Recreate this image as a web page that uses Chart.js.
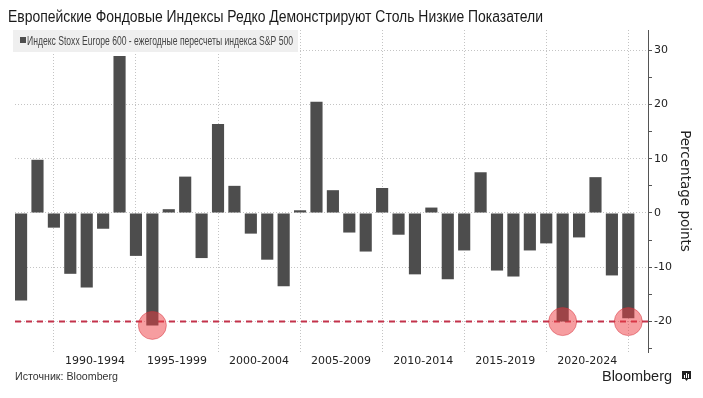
<!DOCTYPE html>
<html>
<head>
<meta charset="utf-8">
<script src="https://cdn.jsdelivr.net/npm/chart.js@4.4.1/dist/chart.umd.min.js"></script>
<style>
  body { margin: 0; background: #fff; }
  canvas { display: block; }
</style>
</head>
<body>
<canvas id="chart" width="703" height="398"></canvas>
<script>
// years (value of each year is dated at year-end, like the original time axis)
const years = [1987, 1988, 1989, 1990, 1991, 1992, 1993, 1994, 1995, 1996,
  1997, 1998, 1999, 2000, 2001, 2002, 2003, 2004, 2005, 2006,
  2007, 2008, 2009, 2010, 2011, 2012, 2013, 2014, 2015, 2016,
  2017, 2018, 2019, 2020, 2021, 2022, 2023, 2024];

// Stoxx Europe 600 minus S&P 500, percentage points
const spread = [-16.1, 9.8, -2.7, -11.2, -13.7, -2.9, 28.9, -7.9, -20.7, 0.7,
  6.7, -8.3, 16.4, 5.0, -3.8, -8.6, -13.5, 0.5, 20.5, 4.2,
  -3.6, -7.1, 4.6, -4.0, -11.3, 1.0, -12.2, -6.9, 7.5, -10.6,
  -11.7, -6.9, -5.6, -20.0, -4.5, 6.6, -11.5, -19.4];

// circled years and where the circles sit
const highlightYears = [1995, 2020, 2024];
const highlightValues = [-20.7, -20, -20];

const threshold = -20;

// five-year groups on the x axis
const groupStarts = [1990, 1995, 2000, 2005, 2010, 2015, 2020];
const groupLabels = ["1990-1994", "1995-1999", "2000-2004", "2005-2009", "2010-2014", "2015-2019", "2020-2024"];

const yTickStep = 5;

const titleText = "Европейские Фондовые Индексы Редко Демонстрируют Столь Низкие Показатели";
const legendText = "Индекс Stoxx Europe 600 - ежегодные пересчеты индекса S&P 500";
const sourceText = "Источник: Bloomberg";

// group boundaries sit at the year-end before the first year of each group
const boundaries = groupStarts.map(s => s - 1).concat([groupStarts[groupStarts.length - 1] + 4]);
const labelPos = groupStarts.map(s => s + 1.5);

function fitText(ctx, text, x, y, font, width, color) {
  ctx.save();
  ctx.font = font;
  ctx.fillStyle = color;
  ctx.textBaseline = "alphabetic";
  ctx.textAlign = "left";
  const w = ctx.measureText(text).width;
  ctx.translate(x, y);
  ctx.scale(width / w, 1);
  ctx.fillText(text, 0, 0);
  ctx.restore();
}

const backdrop = {
  id: "backdrop",
  beforeDraw(chart) {
    const ctx = chart.ctx;
    ctx.save();
    ctx.fillStyle = "#fff";
    ctx.fillRect(0, 0, chart.width, chart.height);
    ctx.restore();
  }
};

const thresholdLine = {
  id: "thresholdLine",
  beforeDatasetsDraw(chart) {
    const {ctx, chartArea, scales} = chart;
    const y = scales.y.getPixelForValue(threshold);
    ctx.save();
    ctx.strokeStyle = "#c3324b";
    ctx.lineWidth = 2;
    ctx.setLineDash([6, 5]);
    ctx.beginPath();
    ctx.moveTo(chartArea.left, y);
    ctx.lineTo(chartArea.right, y);
    ctx.stroke();
    ctx.restore();
  }
};

const texts = {
  id: "texts",
  afterDraw(chart) {
    const ctx = chart.ctx;
    // title
    fitText(ctx, titleText, 8, 22, "16px 'Liberation Sans', Arial, sans-serif", 535, "#1a1a1a");

    // legend box
    ctx.save();
    ctx.fillStyle = "#efefef";
    ctx.fillRect(13, 30, 285, 22);
    ctx.fillStyle = "#4d4d4d";
    ctx.fillRect(20, 37, 6, 6);
    ctx.restore();
    fitText(ctx, legendText, 27, 45, "12.5px 'Liberation Sans Narrow', 'Liberation Sans', Arial, sans-serif", 266, "#444");

    // source + brand
    fitText(ctx, sourceText, 15, 380, "11.5px 'Liberation Sans', Arial, sans-serif", 103, "#333");
    fitText(ctx, "Bloomberg", 602, 381, "14px 'Liberation Sans', Arial, sans-serif", 70, "#222");

    ctx.save();
    ctx.fillStyle = "#222";
    ctx.fillRect(682, 371, 9, 8);
    ctx.beginPath();
    ctx.moveTo(685, 379);
    ctx.lineTo(686.5, 381);
    ctx.lineTo(688, 379);
    ctx.fill();
    ctx.fillStyle = "#fff";
    ctx.fillRect(684, 375, 1, 3);
    ctx.fillRect(686, 373, 1, 5);
    ctx.fillRect(688, 374, 1, 4);
    ctx.restore();
  }
};

new Chart(document.getElementById("chart").getContext("2d"), {
  type: "bar",
  data: {
    datasets: [
      {
        type: "line",
        data: highlightYears.map((y, i) => ({x: y, y: highlightValues[i]})),
        showLine: false,
        pointRadius: 14,
        pointHoverRadius: 14,
        pointBackgroundColor: "rgba(238, 60, 66, 0.5)",
        pointBorderColor: "rgba(210, 45, 55, 0.45)",
        pointBorderWidth: 1,
        order: 0,
        clip: false
      },
      {
        data: years.map((y, i) => ({x: y, y: spread[i]})),
        backgroundColor: "#4d4d4d",
        borderWidth: 0,
        barPercentage: 0.925,
        categoryPercentage: 0.8,
        order: 1
      }
    ]
  },
  options: {
    responsive: false,
    maintainAspectRatio: false,
    devicePixelRatio: 1,
    animation: false,
    layout: { padding: { left: 13, right: 5, top: 30, bottom: 30 } },
    plugins: {
      legend: { display: false },
      tooltip: { enabled: false },
      title: { display: false }
    },
    scales: {
      x: {
        type: "linear",
        position: "bottom",
        min: 1986.63,
        max: 2025.2,
        offset: false,
        afterBuildTicks: (scale) => { scale.ticks = boundaries.map(v => ({value: v})); },
        afterFit: (scale) => { scale.height = 0; },
        ticks: { display: false },
        grid: { color: "#c4c4c4", lineWidth: 1, drawTicks: false, offset: false },
        border: { display: false, dash: [1, 2] }
      },
      x2: {
        type: "linear",
        position: "bottom",
        min: 1986.63,
        max: 2025.2,
        offset: false,
        afterBuildTicks: (scale) => { scale.ticks = labelPos.map(v => ({value: v})); },
        afterFit: (scale) => { scale.height = 16; },
        ticks: {
          autoSkip: false,
          maxRotation: 0,
          padding: 3,
          color: "#222",
          font: { family: "'DejaVu Sans', sans-serif", size: 11 },
          callback: (v) => groupLabels[labelPos.indexOf(v)]
        },
        grid: { display: false, drawTicks: false },
        border: { display: false }
      },
      y: {
        type: "linear",
        position: "right",
        min: -25.6,
        max: 33.7,
        afterFit: (scale) => { scale.width = 50; },
        ticks: {
          stepSize: yTickStep,
          includeBounds: false,
          padding: 2,
          color: "#222",
          font: { family: "'DejaVu Sans', sans-serif", size: 11 },
          callback: (v) => (v % 10 === 0 ? String(v) : "")
        },
        grid: {
          color: (c) => (c.tick && c.tick.value % 10 === 0 ? "#c4c4c4" : "rgba(0,0,0,0)"),
          lineWidth: 1,
          tickColor: "#555",
          tickLength: 4,
          tickBorderDash: [],
          tickWidth: 1
        },
        border: { display: true, color: "#555", width: 1, dash: [1, 2] },
        title: {
          display: true,
          text: "Percentage points",
          color: "#222",
          font: { family: "'DejaVu Sans', sans-serif", size: 13.5 },
          padding: { top: 5, bottom: 0 }
        }
      }
    }
  },
  plugins: [backdrop, thresholdLine, texts]
});
</script>
</body>
</html>
